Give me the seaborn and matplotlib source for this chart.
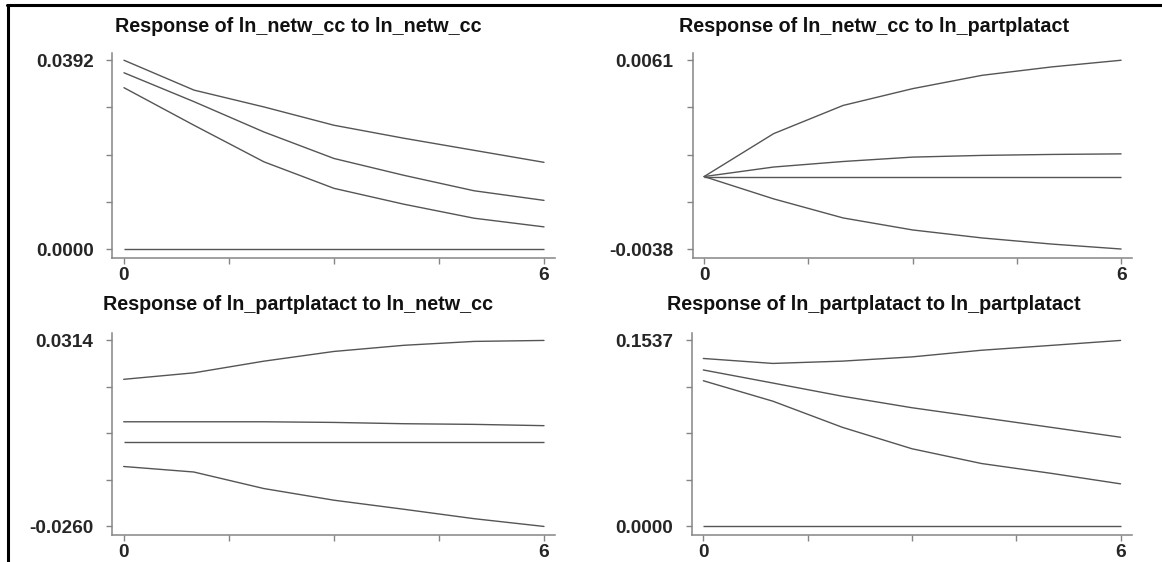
import numpy as np
import pandas as pd
import matplotlib
matplotlib.use("Agg")
import matplotlib.pyplot as plt
from matplotlib.lines import Line2D
import seaborn as sns

# ---------------- data ----------------
periods = [0, 1, 2, 3, 4, 5, 6]

titles = [
    "Response of ln_netw_cc to ln_netw_cc",
    "Response of ln_netw_cc to ln_partplatact",
    "Response of ln_partplatact to ln_netw_cc",
    "Response of ln_partplatact to ln_partplatact",
]

# panel 1: ln_netw_cc -> ln_netw_cc
p1_upper = [0.0392, 0.0330, 0.0295, 0.0257, 0.0230, 0.0205, 0.0180]
p1_resp = [0.0366, 0.0306, 0.0243, 0.0188, 0.0153, 0.0121, 0.0101]
p1_lower = [0.0335, 0.0257, 0.0181, 0.0126, 0.0093, 0.0064, 0.0046]

# panel 2: ln_netw_cc -> ln_partplatact
p2_upper = [0.0, 0.00225, 0.00373, 0.00461, 0.00531, 0.00575, 0.0061]
p2_resp = [0.0, 0.00050, 0.00079, 0.00102, 0.00111, 0.00116, 0.00119]
p2_lower = [0.0, -0.00117, -0.00217, -0.00280, -0.00322, -0.00354, -0.0038]

# panel 3: ln_partplatact -> ln_netw_cc
p3_upper = [0.0194, 0.0214, 0.0250, 0.0280, 0.0299, 0.0311, 0.0314]
p3_resp = [0.0063, 0.0063, 0.0063, 0.0061, 0.0057, 0.0055, 0.0051]
p3_lower = [-0.0075, -0.0092, -0.0143, -0.0179, -0.0207, -0.0236, -0.0260]

# panel 4: ln_partplatact -> ln_partplatact
p4_upper = [0.1388, 0.1347, 0.1366, 0.1401, 0.1456, 0.1496, 0.1537]
p4_resp = [0.1293, 0.1185, 0.1076, 0.0981, 0.0900, 0.0819, 0.0737]
p4_lower = [0.1204, 0.1035, 0.0819, 0.0642, 0.0520, 0.0439, 0.0352]

zero_level = 0.0

# y tick labels (min, max) for each panel
p1_yticks = [0.0000, 0.0392]
p2_yticks = [-0.0038, 0.0061]
p3_yticks = [-0.0260, 0.0314]
p4_yticks = [0.0000, 0.1537]

x_ticks = [0, 6]

panels = [
    (p1_upper, p1_resp, p1_lower, p1_yticks),
    (p2_upper, p2_resp, p2_lower, p2_yticks),
    (p3_upper, p3_resp, p3_lower, p3_yticks),
    (p4_upper, p4_resp, p4_lower, p4_yticks),
]

# ---------------- style ----------------
sns.set_style("white")
plt.rcParams["font.family"] = ["Liberation Sans", "DejaVu Sans"]

W, H = 1162, 562
fig = plt.figure(figsize=(W / 100, H / 100), dpi=100)

# axes rectangles in pixels: (left, top, right, bottom)
rects_px = [
    (112.3, 52.7, 555.0, 257.7),
    (692.5, 52.7, 1132.0, 257.7),
    (112.0, 333.0, 555.0, 535.0),
    (691.7, 333.0, 1131.5, 535.0),
]
title_pos_px = [(298, 27), (874, 27), (298, 305), (874, 305)]

line_col = "#555555"
spine_col = "#858585"

for i, (upper, resp, lower, yt) in enumerate(panels):
    l, t, r, b = rects_px[i]
    ax = fig.add_axes([l / W, 1 - b / H, (r - l) / W, (b - t) / H])
    for series in (upper, resp, lower):
        sns.lineplot(x=periods, y=series, ax=ax, color=line_col,
                     linewidth=1.0, estimator=None, legend=False)
    ax.hlines(zero_level, periods[0], periods[-1], color=line_col, linewidth=1.0)

    lo, hi = yt
    span = hi - lo
    ax.set_ylim(lo - 0.046 * span, hi + 0.040 * span)
    ax.set_xlim(-0.167, 6.157)

    ax.set_yticks(yt)
    ax.set_yticklabels([f"{v:.4f}" for v in yt])
    ax.set_yticks([lo + span * k / 4 for k in (1, 2, 3)], minor=True)
    ax.set_xticks(x_ticks)
    ax.set_xticklabels([str(v) for v in x_ticks])
    ax.set_xticks([1.5, 3.0, 4.5], minor=True)

    for side in ("top", "right"):
        ax.spines[side].set_visible(False)
    for side in ("left", "bottom"):
        ax.spines[side].set_color(spine_col)
        ax.spines[side].set_linewidth(1.1)

    ax.tick_params(axis="both", which="both", direction="out", length=4.5,
                   width=1.0, color=spine_col, left=True, bottom=True)
    ax.tick_params(axis="y", which="major", pad=9, labelsize=13.7)
    ax.tick_params(axis="x", which="major", pad=2, labelsize=13.7)
    for lab in ax.get_xticklabels() + ax.get_yticklabels():
        lab.set_fontweight("bold")
    ax.set_xlabel("")
    ax.set_ylabel("")
    ax.grid(False)

    tx, ty = title_pos_px[i]
    fig.text(tx / W, 1 - ty / H, titles[i], ha="center", va="center",
             fontsize=14.2, fontweight="bold", color="#111111")

# outer frame lines (top and left)
fig.add_artist(Line2D([7 / W, 1.0], [1 - 5.3 / H, 1 - 5.3 / H],
                      transform=fig.transFigure, color="black", linewidth=2.2))
fig.add_artist(Line2D([8 / W, 8 / W], [0.0, 1 - 4.5 / H],
                      transform=fig.transFigure, color="black", linewidth=2.2))

fig.savefig("out.png", dpi=100, facecolor="white")
